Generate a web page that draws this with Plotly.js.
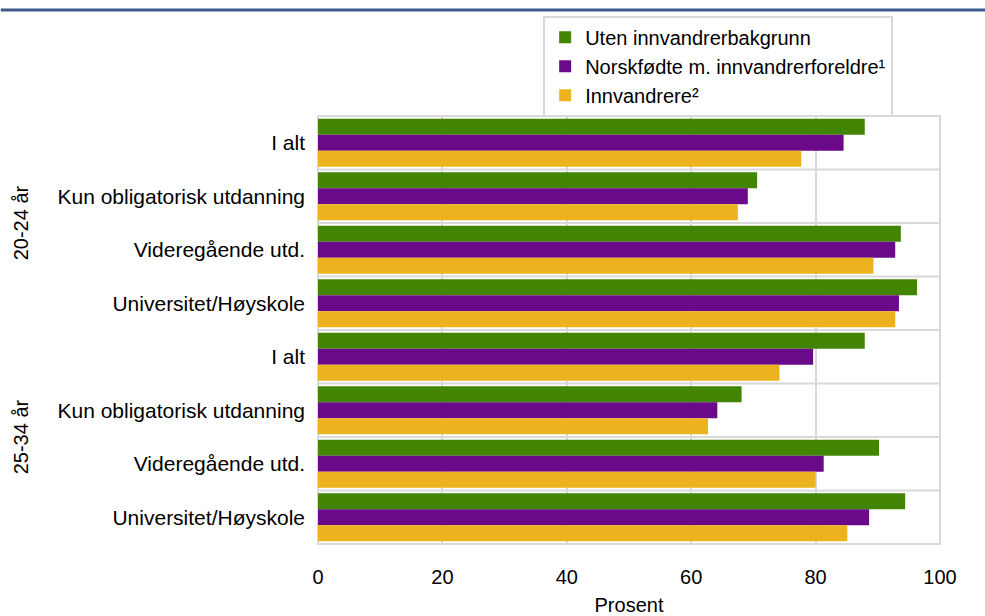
<!DOCTYPE html>
<html>
<head>
<meta charset="utf-8">
<script src="https://cdn.plot.ly/plotly-3.0.1.min.js"></script>
<style>html,body{margin:0;padding:0;background:#fff;}#chart{width:985px;height:616px;}</style>
</head>
<body>
<div id="chart"></div>
<script>
const categories = ["I alt", "Kun obligatorisk utdanning", "Videregående utd.", "Universitet/Høyskole",
                    "I alt", "Kun obligatorisk utdanning", "Videregående utd.", "Universitet/Høyskole"];
const groups = ["20-24 år", "25-34 år"];
const seriesNames = ["Uten innvandrerbakgrunn", "Norskfødte m. innvandrerforeldre¹", "Innvandrere²"];
const utenInnvandrerbakgrunn = [87.9, 70.6, 93.7, 96.3, 87.9, 68.1, 90.2, 94.4];
const norskfodte = [84.5, 69.1, 92.8, 93.4, 79.6, 64.2, 81.3, 88.6];
const innvandrere = [77.7, 67.5, 89.3, 92.8, 74.2, 62.7, 80.0, 85.1];
const xTicks = [0, 20, 40, 60, 80, 100];

const colors = ["#418502", "#6a0a88", "#edb31f"];
const font = "Liberation Sans, Arial, sans-serif";
const fs = 20;
const idx = categories.map((c, i) => i);
const values = [utenInnvandrerbakgrunn, norskfodte, innvandrere];

const traces = values.map((v, k) => ({
  type: "bar", orientation: "h",
  x: v, y: idx, name: seriesNames[k],
  marker: {color: colors[k]},
  hoverinfo: "x+name"
}));

const halves = [];
for (let i = 0; i <= categories.length; i++) halves.push(i - 0.5);

const shapes = halves.slice(1, -1).map(h => ({
  type: "line", xref: "paper", yref: "y", x0: 0, x1: 1, y0: h, y1: h,
  line: {color: "#d9d9d9", width: 2}, layer: "below"
}));
shapes.push({type: "rect", xref: "paper", yref: "paper", x0: 0, x1: 1, y0: 0, y1: 1,
  line: {color: "#d9d9d9", width: 2}, layer: "below"});
// dark header rule
shapes.push({type: "line", xref: "paper", yref: "paper", x0: -0.51, x1: 1.08, y0: 1.2477, y1: 1.2477,
  line: {color: "#3d5a8a", width: 3}});

const annotations = groups.map((g, j) => ({
  text: g, xref: "paper", yref: "y", x: -0.477, y: j * 4 + 1.5,
  showarrow: false, textangle: -90, xanchor: "center", yanchor: "middle",
  font: {family: font, size: fs, color: "#000"}
}));

const layout = {
  width: 985, height: 616,
  margin: {l: 318, r: 45, t: 116, b: 72},
  paper_bgcolor: "#fff", plot_bgcolor: "#fff",
  barmode: "group", bargap: 0.1, bargroupgap: 0,
  font: {family: font, size: fs, color: "#000"},
  xaxis: {
    range: [0, 100], tickvals: xTicks, ticktext: xTicks.map(String),
    showgrid: true, gridcolor: "#d9d9d9", gridwidth: 2, zeroline: false,
    showline: false, ticks: "", ticklabelstandoff: 19,
    title: {text: "Prosent", font: {family: font, size: fs}, standoff: 10},
    tickfont: {family: font, size: fs}
  },
  yaxis: {
    range: [categories.length - 0.5, -0.5],
    tickvals: idx, ticktext: categories,
    showgrid: false, zeroline: false, showline: false, ticks: "",
    ticklabelstandoff: 12,
    tickfont: {family: font, size: 21}
  },
  legend: {
    x: 0.362, y: 1.234, xanchor: "left", yanchor: "top",
    bordercolor: "#d9d9d9", borderwidth: 2, bgcolor: "#fff",
    font: {family: font, size: 20}, traceorder: "normal",
    itemwidth: 30
  },
  shapes: shapes,
  annotations: annotations,
  showlegend: true
};

Plotly.newPlot("chart", traces, layout, {displayModeBar: false, staticPlot: true});
</script>
</body>
</html>
